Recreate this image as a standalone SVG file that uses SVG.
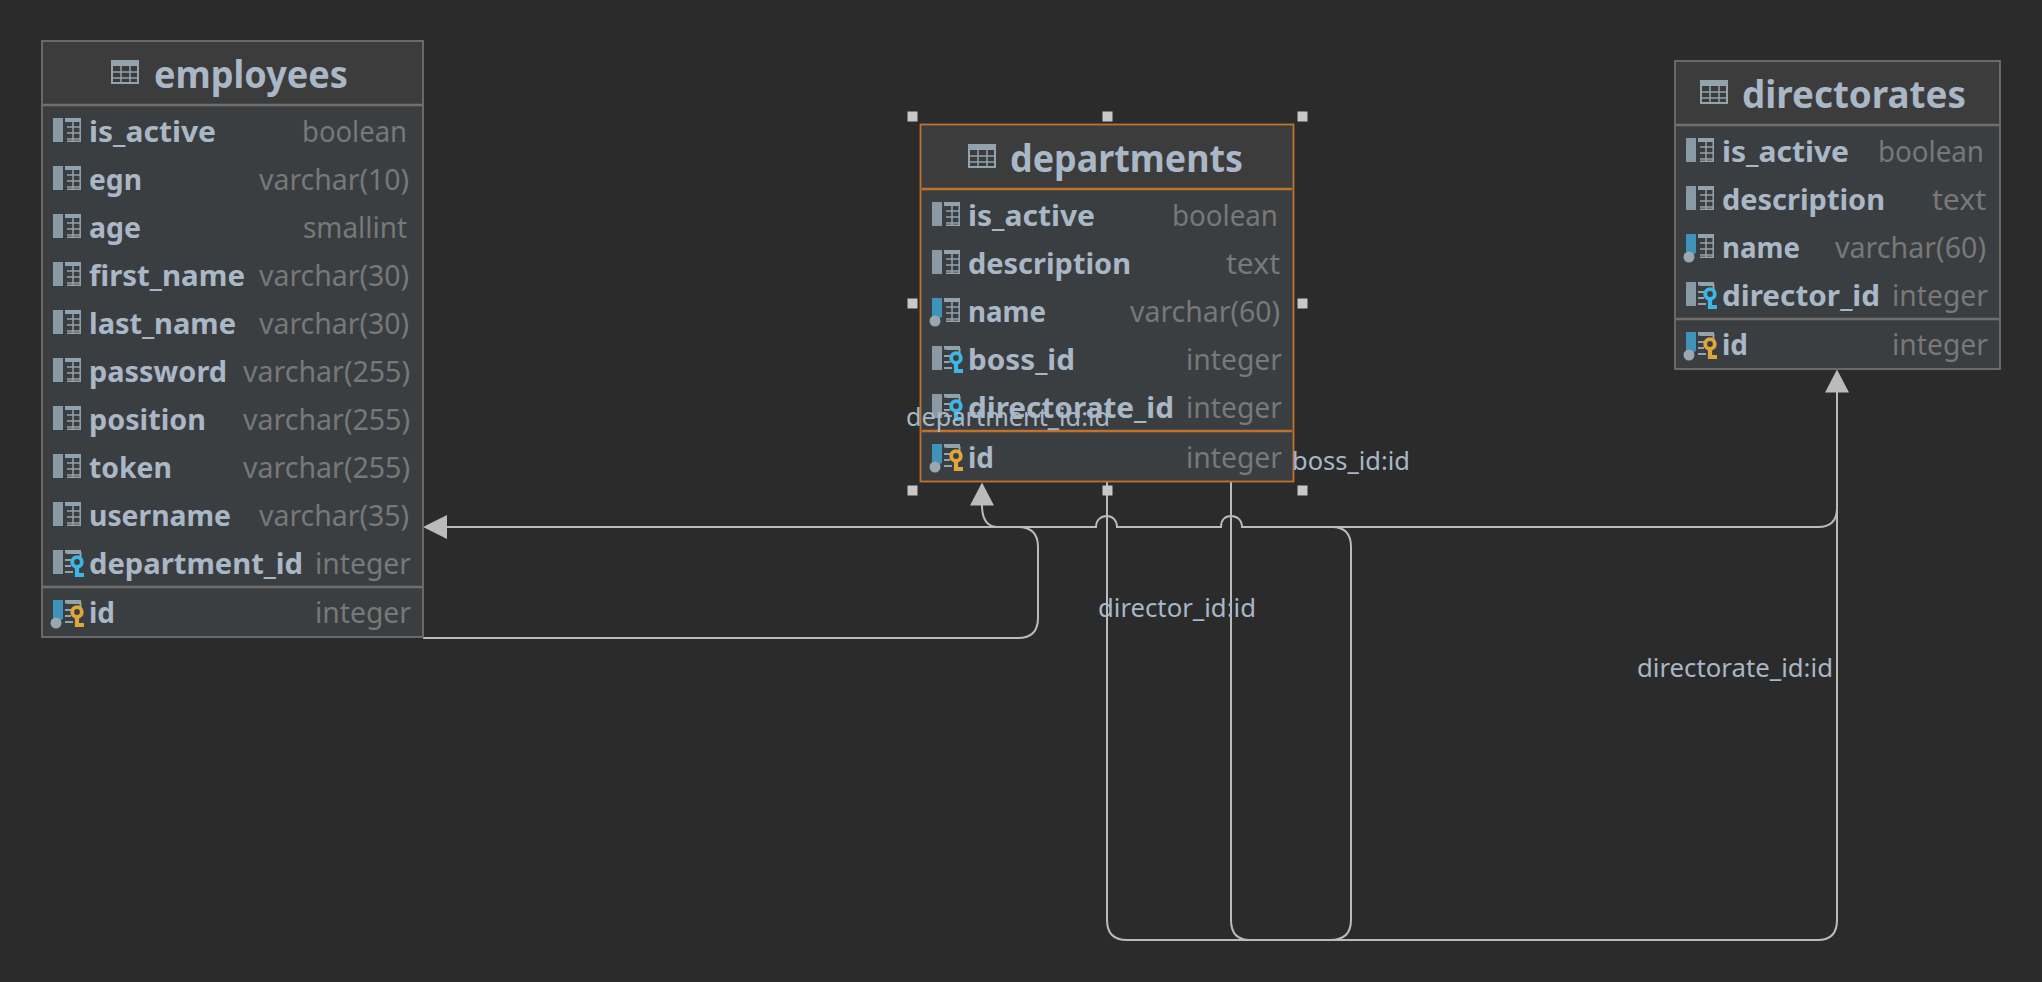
<svg xmlns="http://www.w3.org/2000/svg" xmlns:xlink="http://www.w3.org/1999/xlink" width="2042" height="982" viewBox="0 0 2042 982">
<style>
text{font-family:"Noto Sans","Open Sans","DejaVu Sans",sans-serif}
.box{fill:#3b3e41;stroke:#6f6f6f;stroke-width:1.8}
.head{fill:#3d3c3c}
.div{stroke:#6f6f6f;stroke-width:2.4}
.sel .box{stroke:#c0722c}
.sel .div{stroke:#c0722c}
.title{font-size:37px;font-weight:700;fill:#a9b7c6}
.n{font-size:29px;font-weight:700;fill:#a9b7c6}
.t{font-size:29px;fill:#787878}
.lab{font-size:24.500px;fill:#a9b7c6}
.conn{fill:none;stroke:#bbb;stroke-width:2}
.arrow{fill:#bbb}
.handle{fill:#c8c8c8}
</style>
<defs>
<g id="tbl"><rect x="1" y="1" width="26" height="22" fill="none" stroke="#93a3ae" stroke-width="2"/><rect x="0" y="0" width="28" height="6" fill="#93a3ae"/><path d="M1 12h26M1 18h26M10 6v17M19 6v17" stroke="#93a3ae" stroke-width="1.500" fill="none"/></g>
<g id="grid"><path d="M12 1.500h16M14 9h14M14 15h14M14 21h14M14 23.200h14M20 3v20M27.200 1v23" stroke="#93a3ae" fill="none" stroke-width="1.500"/><rect x="12" y="0" width="16" height="4" fill="#93a3ae"/></g>
<g id="lines"><rect x="12" y="0" width="16" height="3.500" fill="#93a3ae"/><path d="M14 3h13.500v5M12 10h8M12 16h6M12 22h8" stroke="#93a3ae" stroke-width="2" fill="none"/></g>
<rect id="bar" x="0" y="0" width="10" height="24" fill="#8a9aa5"/>
<g id="blue"><path d="M0 0h10v19l-4 2h-6z" fill="#3f93b8"/><circle cx="3" cy="23" r="5.500" fill="#9aa7b0"/></g>
<g id="key"><circle cx="24" cy="12" r="4.800" fill="none" stroke-width="3.800"/><path d="M24 15v12M24 25h7" fill="none" stroke-width="4.200"/></g>
<g id="col"><use xlink:href="#bar"/><use xlink:href="#grid"/></g>
<g id="uq"><use xlink:href="#blue"/><use xlink:href="#grid"/></g>
<g id="fk"><use xlink:href="#bar"/><use xlink:href="#lines"/><use xlink:href="#key" stroke="#3db6e6"/></g>
<g id="pk"><use xlink:href="#blue"/><use xlink:href="#lines"/><use xlink:href="#key" stroke="#dfa63c"/></g>
</defs>
<rect width="2042" height="982" fill="#2b2b2b"/>

<g id="connectors">
<path class="conn" d="M423 638H1018Q1038 638 1038 618V547Q1038 527 1018 527H998Q982 527 982 505"/>
<path class="conn" d="M1231 481V920Q1231 940 1250 940H1330Q1351 940 1351 920V547Q1351 527 1332 527H1242C1242 520 1237 516 1231 516C1225 516 1221 520 1221 527H1117C1117 520 1112 516 1107 516C1101 516 1096 520 1096 527H447"/>
<path class="conn" d="M1107 481V920Q1107 940 1127 940H1818Q1837 940 1837 920V392"/>
<path class="conn" d="M1837 390V508Q1837 527 1818 527H1300"/>
<polygon class="arrow" points="423,527 447,515 447,539"/>
<polygon class="arrow" points="982,482.500 970,505.500 994,505.500"/>
<polygon class="arrow" points="1837,369.500 1825,392.500 1849,392.500"/>
</g>

<g id="employees">
<rect class="box" x="42" y="41" width="381" height="596"/>
<rect class="head" x="43" y="42" width="379" height="63"/>
<path class="div" d="M43 105H422M43 587H422"/>
<use xlink:href="#tbl" x="111" y="60"/>
<text class="title" x="154" y="88" textLength="194" lengthAdjust="spacingAndGlyphs">employees</text>
<use xlink:href="#col" x="53" y="118"/><text class="n" x="89" y="142" textLength="127" lengthAdjust="spacingAndGlyphs">is_active</text><text class="t" x="302" y="142" textLength="105" lengthAdjust="spacingAndGlyphs">boolean</text>
<use xlink:href="#col" x="53" y="166"/><text class="n" x="89" y="190" textLength="53" lengthAdjust="spacingAndGlyphs">egn</text><text class="t" x="259" y="190" textLength="150" lengthAdjust="spacingAndGlyphs">varchar(10)</text>
<use xlink:href="#col" x="53" y="214"/><text class="n" x="89" y="238" textLength="52" lengthAdjust="spacingAndGlyphs">age</text><text class="t" x="303" y="238" textLength="104" lengthAdjust="spacingAndGlyphs">smallint</text>
<use xlink:href="#col" x="53" y="262"/><text class="n" x="89" y="286" textLength="156" lengthAdjust="spacingAndGlyphs">first_name</text><text class="t" x="259" y="286" textLength="150" lengthAdjust="spacingAndGlyphs">varchar(30)</text>
<use xlink:href="#col" x="53" y="310"/><text class="n" x="89" y="334" textLength="147" lengthAdjust="spacingAndGlyphs">last_name</text><text class="t" x="259" y="334" textLength="150" lengthAdjust="spacingAndGlyphs">varchar(30)</text>
<use xlink:href="#col" x="53" y="358"/><text class="n" x="89" y="382" textLength="138" lengthAdjust="spacingAndGlyphs">password</text><text class="t" x="243" y="382" textLength="167" lengthAdjust="spacingAndGlyphs">varchar(255)</text>
<use xlink:href="#col" x="53" y="406"/><text class="n" x="89" y="430" textLength="117" lengthAdjust="spacingAndGlyphs">position</text><text class="t" x="243" y="430" textLength="167" lengthAdjust="spacingAndGlyphs">varchar(255)</text>
<use xlink:href="#col" x="53" y="454"/><text class="n" x="89" y="478" textLength="83" lengthAdjust="spacingAndGlyphs">token</text><text class="t" x="243" y="478" textLength="167" lengthAdjust="spacingAndGlyphs">varchar(255)</text>
<use xlink:href="#col" x="53" y="502"/><text class="n" x="89" y="526" textLength="142" lengthAdjust="spacingAndGlyphs">username</text><text class="t" x="259" y="526" textLength="150" lengthAdjust="spacingAndGlyphs">varchar(35)</text>
<use xlink:href="#fk" x="53" y="550"/><text class="n" x="89" y="574" textLength="214" lengthAdjust="spacingAndGlyphs">department_id</text><text class="t" x="315" y="574" textLength="96" lengthAdjust="spacingAndGlyphs">integer</text>
<use xlink:href="#pk" x="53" y="600"/><text class="n" x="89" y="623" textLength="26" lengthAdjust="spacingAndGlyphs">id</text><text class="t" x="315" y="623" textLength="96" lengthAdjust="spacingAndGlyphs">integer</text>
</g>

<g id="departments" class="sel">
<rect class="box" x="920.500" y="124.500" width="373" height="357"/>
<rect class="head" x="922" y="126" width="370" height="62"/>
<path class="div" d="M922 189H1292M922 431H1292"/>
<use xlink:href="#tbl" x="968" y="144"/>
<text class="title" x="1010" y="172" textLength="233" lengthAdjust="spacingAndGlyphs">departments</text>
<use xlink:href="#col" x="932" y="202"/><text class="n" x="968" y="226" textLength="127" lengthAdjust="spacingAndGlyphs">is_active</text><text class="t" x="1172" y="226" textLength="106" lengthAdjust="spacingAndGlyphs">boolean</text>
<use xlink:href="#col" x="932" y="250"/><text class="n" x="968" y="274" textLength="163" lengthAdjust="spacingAndGlyphs">description</text><text class="t" x="1226" y="274" textLength="54" lengthAdjust="spacingAndGlyphs">text</text>
<use xlink:href="#uq" x="932" y="298"/><text class="n" x="968" y="322" textLength="78" lengthAdjust="spacingAndGlyphs">name</text><text class="t" x="1130" y="322" textLength="150" lengthAdjust="spacingAndGlyphs">varchar(60)</text>
<use xlink:href="#fk" x="932" y="346"/><text class="n" x="968" y="370" textLength="107" lengthAdjust="spacingAndGlyphs">boss_id</text><text class="t" x="1186" y="370" textLength="96" lengthAdjust="spacingAndGlyphs">integer</text>
<use xlink:href="#fk" x="932" y="394"/><text class="n" x="968" y="418" textLength="206" lengthAdjust="spacingAndGlyphs">directorate_id</text><text class="t" x="1186" y="418" textLength="96" lengthAdjust="spacingAndGlyphs">integer</text>
<use xlink:href="#pk" x="932" y="444"/><text class="n" x="968" y="468" textLength="26" lengthAdjust="spacingAndGlyphs">id</text><text class="t" x="1186" y="468" textLength="96" lengthAdjust="spacingAndGlyphs">integer</text>
</g>
<g id="selection-handles">
<rect class="handle" x="907.500" y="111.500" width="10" height="10"/><rect class="handle" x="1102.500" y="111.500" width="10" height="10"/><rect class="handle" x="1297.500" y="111.500" width="10" height="10"/>
<rect class="handle" x="907.500" y="298.500" width="10" height="10"/><rect class="handle" x="1297.500" y="298.500" width="10" height="10"/>
<rect class="handle" x="907.500" y="485.500" width="10" height="10"/><rect class="handle" x="1102.500" y="485.500" width="10" height="10"/><rect class="handle" x="1297.500" y="485.500" width="10" height="10"/>
</g>

<g id="directorates">
<rect class="box" x="1675" y="61" width="325" height="308"/>
<rect class="head" x="1676" y="62" width="323" height="63"/>
<path class="div" d="M1676 125H1999M1676 319H1999"/>
<use xlink:href="#tbl" x="1700" y="80"/>
<text class="title" x="1742" y="108" textLength="224" lengthAdjust="spacingAndGlyphs">directorates</text>
<use xlink:href="#col" x="1686" y="138"/><text class="n" x="1722" y="162" textLength="127" lengthAdjust="spacingAndGlyphs">is_active</text><text class="t" x="1878" y="162" textLength="106" lengthAdjust="spacingAndGlyphs">boolean</text>
<use xlink:href="#col" x="1686" y="186"/><text class="n" x="1722" y="210" textLength="163" lengthAdjust="spacingAndGlyphs">description</text><text class="t" x="1932" y="210" textLength="54" lengthAdjust="spacingAndGlyphs">text</text>
<use xlink:href="#uq" x="1686" y="234"/><text class="n" x="1722" y="258" textLength="78" lengthAdjust="spacingAndGlyphs">name</text><text class="t" x="1835" y="258" textLength="151" lengthAdjust="spacingAndGlyphs">varchar(60)</text>
<use xlink:href="#fk" x="1686" y="282"/><text class="n" x="1722" y="306" textLength="158" lengthAdjust="spacingAndGlyphs">director_id</text><text class="t" x="1892" y="306" textLength="96" lengthAdjust="spacingAndGlyphs">integer</text>
<use xlink:href="#pk" x="1686" y="332"/><text class="n" x="1722" y="355" textLength="26" lengthAdjust="spacingAndGlyphs">id</text><text class="t" x="1892" y="355" textLength="96" lengthAdjust="spacingAndGlyphs">integer</text>
</g>

<g id="connector-labels">
<text class="lab" x="906" y="426" textLength="204" lengthAdjust="spacingAndGlyphs">department_id:id</text>
<text class="lab" x="1292" y="470" textLength="118" lengthAdjust="spacingAndGlyphs">boss_id:id</text>
<text class="lab" x="1098" y="617" textLength="158" lengthAdjust="spacingAndGlyphs">director_id:id</text>
<text class="lab" x="1637" y="677" textLength="196" lengthAdjust="spacingAndGlyphs">directorate_id:id</text>
</g>
</svg>
